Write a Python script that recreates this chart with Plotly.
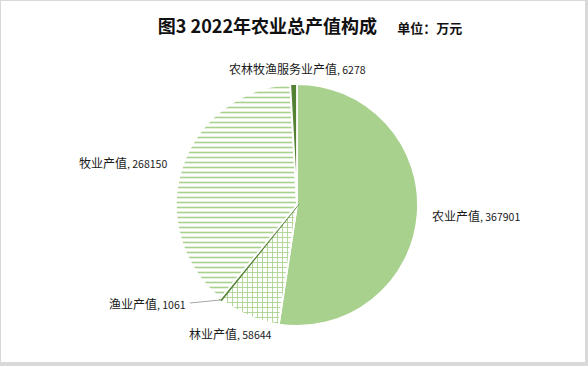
import math
import plotly.graph_objects as go

categories = ["农业产值", "林业产值", "渔业产值", "牧业产值", "农林牧渔服务业产值"]
values = [367901, 58644, 1061, 268150, 6278]
fill_colors = ["#A9D18E", "#A9D18E", "#548235", "#A9D18E", "#548235"]
patterns = ["", "+", "", "-", ""]
line_colors = ["white", "white", "#548235", "white", "white"]
line_widths = [1.8, 1.8, 3, 1.8, 1.8]

W, H = 588, 366
FONT = "Noto Sans CJK SC, Microsoft YaHei, sans-serif"

def px(x):
    return x / W

def py(y):
    return 1 - y / H

# pie geometry (pixels)
cx, cy, r = 297, 205, 121

fig = go.Figure(go.Pie(
    labels=categories,
    values=values,
    sort=False,
    direction="clockwise",
    rotation=0,
    marker=dict(
        colors=fill_colors,
        line=dict(color=line_colors, width=line_widths),
        pattern=dict(shape=patterns, fgcolor="#A9D18E", bgcolor="white",
                     size=5, solidity=0.32, fillmode="replace"),
    ),
    textinfo="none",
    showlegend=False,
    hoverinfo="label+value+percent",
    domain=dict(x=[px(cx - r), px(cx + r)], y=[py(cy + r), py(cy - r)]),
))

# label positions (left edge x, center y) in pixels
label_pos = [(430, 215), (187, 333), (107, 303), (77, 162), (227, 68)]
annotations = []
for cat, val, (lx, ly) in zip(categories, values, label_pos):
    annotations.append(dict(
        xref="paper", yref="paper", x=px(lx), y=py(ly), xanchor="left", yanchor="middle",
        text=f"{cat}<span style='font-size:10.5px'>, {val}</span>",
        showarrow=False, font=dict(family=FONT, size=12, color="#1a1a1a"),
    ))

# leader line for the tiny 渔业 slice, tip computed from data
total = sum(values)
idx = 2
frac_mid = (sum(values[:idx]) + values[idx] / 2) / total
ang = 2 * math.pi * frac_mid
tip_x = cx + r * math.sin(ang)
tip_y = cy - r * math.cos(ang)

shapes = [
    dict(type="rect", xref="paper", yref="paper", layer="below",
         x0=px(1), x1=px(585), y0=py(362), y1=py(1),
         fillcolor="white", line=dict(width=0)),
    dict(type="line", xref="paper", yref="paper",
         x0=px(190), y0=py(303), x1=px(tip_x - 1), y1=py(tip_y + 1),
         line=dict(color="#A6A6A6", width=1)),
]

fig.update_layout(
    width=W, height=H,
    autosize=False,
    margin=dict(l=0, r=0, t=0, b=0),
    paper_bgcolor="#D9D9D9",
    plot_bgcolor="white",
    title=dict(
        text="<b>图3 2022年农业总产值构成</b>     <b><span style='font-size:13px'>单位：万元</span></b>",
        x=px(310), xanchor="center", y=py(27), yanchor="middle",
        font=dict(family=FONT, size=18, color="#111111"),
    ),
    shapes=shapes,
    annotations=annotations,
)

fig.write_html("out.html", config={"displayModeBar": False},
               post_script="document.body.style.margin='0';")
